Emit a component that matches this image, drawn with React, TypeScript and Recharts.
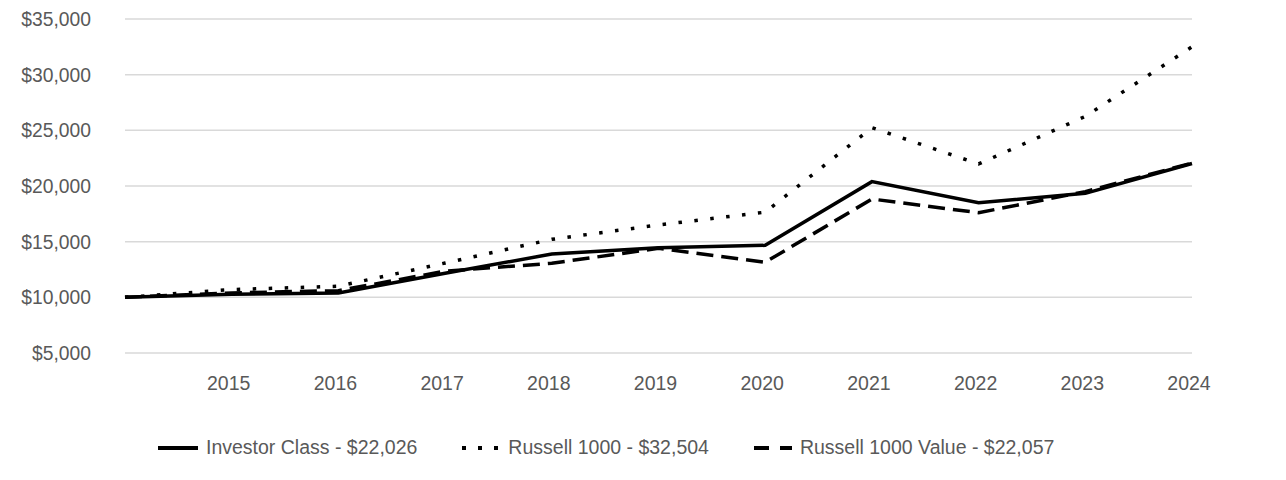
import { LineChart, Line, XAxis, YAxis, CartesianGrid } from "recharts";

const FONT = '"Liberation Sans Narrow", "Arial Narrow", "Liberation Sans", Arial, sans-serif';
const TEXT = "#595959";

const years = ["", "2015", "2016", "2017", "2018", "2019", "2020", "2021", "2022", "2023", "2024"];
const investorClass = [10000, 10280, 10400, 12160, 13890, 14460, 14670, 20390, 18500, 19340, 22026];
const russell1000 = [10000, 10700, 11000, 13080, 15210, 16500, 17650, 25240, 21980, 26250, 32504];
const russell1000Value = [10000, 10400, 10600, 12350, 13060, 14400, 13150, 18830, 17600, 19490, 22057];
const yTicks = [5000, 10000, 15000, 20000, 25000, 30000, 35000];

const data = years.map((year, i) => ({
  year,
  investor: investorClass[i],
  r1000: russell1000[i],
  r1000v: russell1000Value[i],
}));

const legendItems = [
  { label: "Investor Class - $22,026", dash: undefined },
  { label: "Russell 1000 - $32,504", dash: "4 12" },
  { label: "Russell 1000 Value - $22,057", dash: "15 11" },
];

const fmt = (v: number) => "$" + v.toLocaleString("en-US");

export default function App() {
  return (
    <div style={{ position: "relative", left: -8, top: -8, width: 1286, height: 480 }}>
      <LineChart
        width={1286}
        height={480}
        data={data}
        margin={{ top: 19, right: 94, bottom: 0, left: 0 }}
      >
        <CartesianGrid vertical={false} stroke="#d9d9d9" strokeWidth={1.5} />
        <XAxis
          dataKey="year"
          axisLine={false}
          tickLine={false}
          tickSize={0}
          tickMargin={23}
          height={127}
          interval={0}
          dx={-3}
          tick={{ fill: TEXT, fontSize: 19.5, fontFamily: FONT }}
        />
        <YAxis
          domain={[5000, 35000]}
          ticks={yTicks}
          width={125}
          axisLine={false}
          tickLine={false}
          tickSize={0}
          tickMargin={34}
          tickFormatter={fmt}
          tick={{ fill: TEXT, fontSize: 19.3, fontFamily: FONT }}
        />
        <Line
          type="linear"
          dataKey="r1000"
          stroke="#000"
          strokeWidth={3.5}
          strokeDasharray="3.5 12.5"
          dot={false}
          isAnimationActive={false}
        />
        <Line
          type="linear"
          dataKey="r1000v"
          stroke="#000"
          strokeWidth={3.5}
          strokeDasharray="17 8"
          dot={false}
          isAnimationActive={false}
        />
        <Line
          type="linear"
          dataKey="investor"
          stroke="#000"
          strokeWidth={3.5}
          dot={false}
          isAnimationActive={false}
        />
      </LineChart>
      <div
        style={{
          position: "absolute",
          top: 436,
          left: 158,
          display: "flex",
          alignItems: "center",
          gap: 43,
          fontFamily: FONT,
          fontSize: 19.5,
          color: TEXT,
          whiteSpace: "nowrap",
        }}
      >
        {legendItems.map((item) => (
          <div key={item.label} style={{ display: "flex", alignItems: "center" }}>
            <svg width={40} height={10} style={{ marginRight: 8 }}>
              <line
                x1={item.dash ? 2 : 0}
                y1={5}
                x2={40}
                y2={5}
                stroke="#000"
                strokeWidth={4}
                strokeDasharray={item.dash}
              />
            </svg>
            <span>{item.label}</span>
          </div>
        ))}
      </div>
    </div>
  );
}
